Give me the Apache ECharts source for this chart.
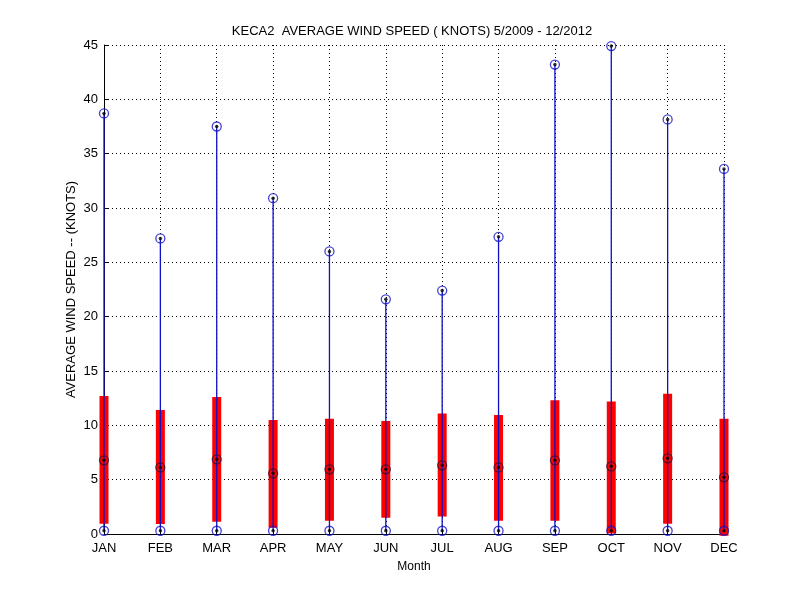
<!DOCTYPE html>
<html>
<head>
<meta charset="utf-8">
<script src="https://cdn.jsdelivr.net/npm/echarts@6/dist/echarts.min.js"></script>
<style>
  html, body { margin: 0; padding: 0; background: #fff; }
  #chart { width: 800px; height: 600px; }
</style>
</head>
<body>
<div id="chart"></div>
<script>
// --- Data ---

const months = ['JAN', 'FEB', 'MAR', 'APR', 'MAY', 'JUN', 'JUL', 'AUG', 'SEP', 'OCT', 'NOV', 'DEC'];
const maxSpeed = [38.7, 27.2, 37.5, 30.9, 26.0, 21.6, 22.4, 27.35, 43.2, 44.9, 38.15, 33.6];
const minSpeed = [0.3, 0.3, 0.3, 0.3, 0.3, 0.3, 0.3, 0.3, 0.3, 0.3, 0.3, 0.3];
const meanSpeed = [6.78, 6.13, 6.87, 5.58, 5.95, 5.95, 6.32, 6.13, 6.78, 6.23, 6.96, 5.22];
const barLow = [0.95, 0.92, 1.13, 0.58, 1.23, 1.5, 1.6, 1.23, 1.23, 0.05, 0.95, -0.15];
const barHigh = [12.7, 11.4, 12.6, 10.5, 10.6, 10.4, 11.1, 10.95, 12.3, 12.2, 12.9, 10.6];

const FONT = '"Liberation Sans", Arial, sans-serif';
const BLUE = '#1010c8';

// red band: low -> high
function renderBand(params, api) {
    const p1 = api.coord([api.value(0), api.value(1)]);
    const p2 = api.coord([api.value(0), api.value(2)]);
    return {
        type: 'rect',
        shape: { x: p1[0] - 4.5, y: p2[1], width: 9, height: p1[1] - p2[1] },
        style: { fill: '#ff0000' }
    };
}

// blue stem: min -> max
function renderStem(params, api) {
    const p1 = api.coord([api.value(0), api.value(1)]);
    const p2 = api.coord([api.value(0), api.value(2)]);
    return {
        type: 'line',
        shape: { x1: p1[0], y1: p1[1], x2: p2[0], y2: p2[1] },
        style: { stroke: BLUE, lineWidth: 1.3 }
    };
}

const ringStyle = (color) => ({
    type: 'scatter',
    symbol: 'circle',
    symbolSize: 9,
    itemStyle: { color: 'rgba(0,0,0,0)', borderColor: color, borderWidth: 1.3 },
    silent: true,
    z: 5
});

const dotStyle = {
    type: 'scatter',
    symbol: 'circle',
    symbolSize: 3.5,
    itemStyle: { color: '#000' },
    silent: true,
    z: 6
};

const chart = echarts.init(document.getElementById('chart'));
chart.setOption({
    animation: false,
    backgroundColor: '#fff',
    title: {
        text: 'KECA2  AVERAGE WIND SPEED ( KNOTS) 5/2009 - 12/2012',
        left: 407, top: 20, textAlign: 'center',
        textStyle: { fontFamily: FONT, fontSize: 13, fontWeight: 'normal', color: '#000' }
    },
    grid: { left: 104, right: 76, top: 45, bottom: 66 },
    xAxis: {
        type: 'category',
        data: months,
        boundaryGap: false,
        name: 'Month',
        nameLocation: 'middle',
        nameGap: 27,
        nameMoveOverlap: false,
        nameTextStyle: { fontFamily: FONT, fontSize: 12, color: '#000' },
        axisLine: { lineStyle: { color: '#000', width: 1 } },
        axisTick: { inside: true, length: 5, lineStyle: { color: '#000' } },
        axisLabel: { fontFamily: FONT, fontSize: 13, color: '#000', margin: 8 },
        splitLine: { show: true, lineStyle: { color: '#000', type: [1, 3], width: 1 } }
    },
    yAxis: {
        type: 'value',
        min: 0, max: 45, interval: 5,
        name: 'AVERAGE WIND SPEED -- (KNOTS)',
        nameLocation: 'middle',
        nameGap: 26,
        nameMoveOverlap: false,
        nameTextStyle: { fontFamily: FONT, fontSize: 13, color: '#000' },
        axisLine: { show: true, lineStyle: { color: '#000', width: 1 } },
        axisTick: { show: true, inside: true, length: 5, lineStyle: { color: '#000' } },
        axisLabel: { fontFamily: FONT, fontSize: 13, color: '#000', margin: 6 },
        splitLine: { show: true, lineStyle: { color: '#000', type: [1, 3], width: 1 } }
    },
    series: [
        {
            type: 'custom',
            renderItem: renderBand,
            data: months.map((m, i) => [i, barLow[i], barHigh[i]]),
            clip: false,
            z: 2
        },
        {
            type: 'custom',
            renderItem: renderStem,
            data: months.map((m, i) => [i, minSpeed[i], maxSpeed[i]]),
            clip: false,
            z: 3
        },
        Object.assign(ringStyle(BLUE), { data: months.map((m, i) => [i, maxSpeed[i]]) }),
        Object.assign(ringStyle(BLUE), { data: months.map((m, i) => [i, minSpeed[i]]) }),
        Object.assign(ringStyle('#301030'), { data: months.map((m, i) => [i, meanSpeed[i]]) }),
        Object.assign({}, dotStyle, { data: months.map((m, i) => [i, maxSpeed[i]]) }),
        Object.assign({}, dotStyle, { data: months.map((m, i) => [i, minSpeed[i]]) }),
        Object.assign({}, dotStyle, { data: months.map((m, i) => [i, meanSpeed[i]]) })
    ]
});
</script>
</body>
</html>
